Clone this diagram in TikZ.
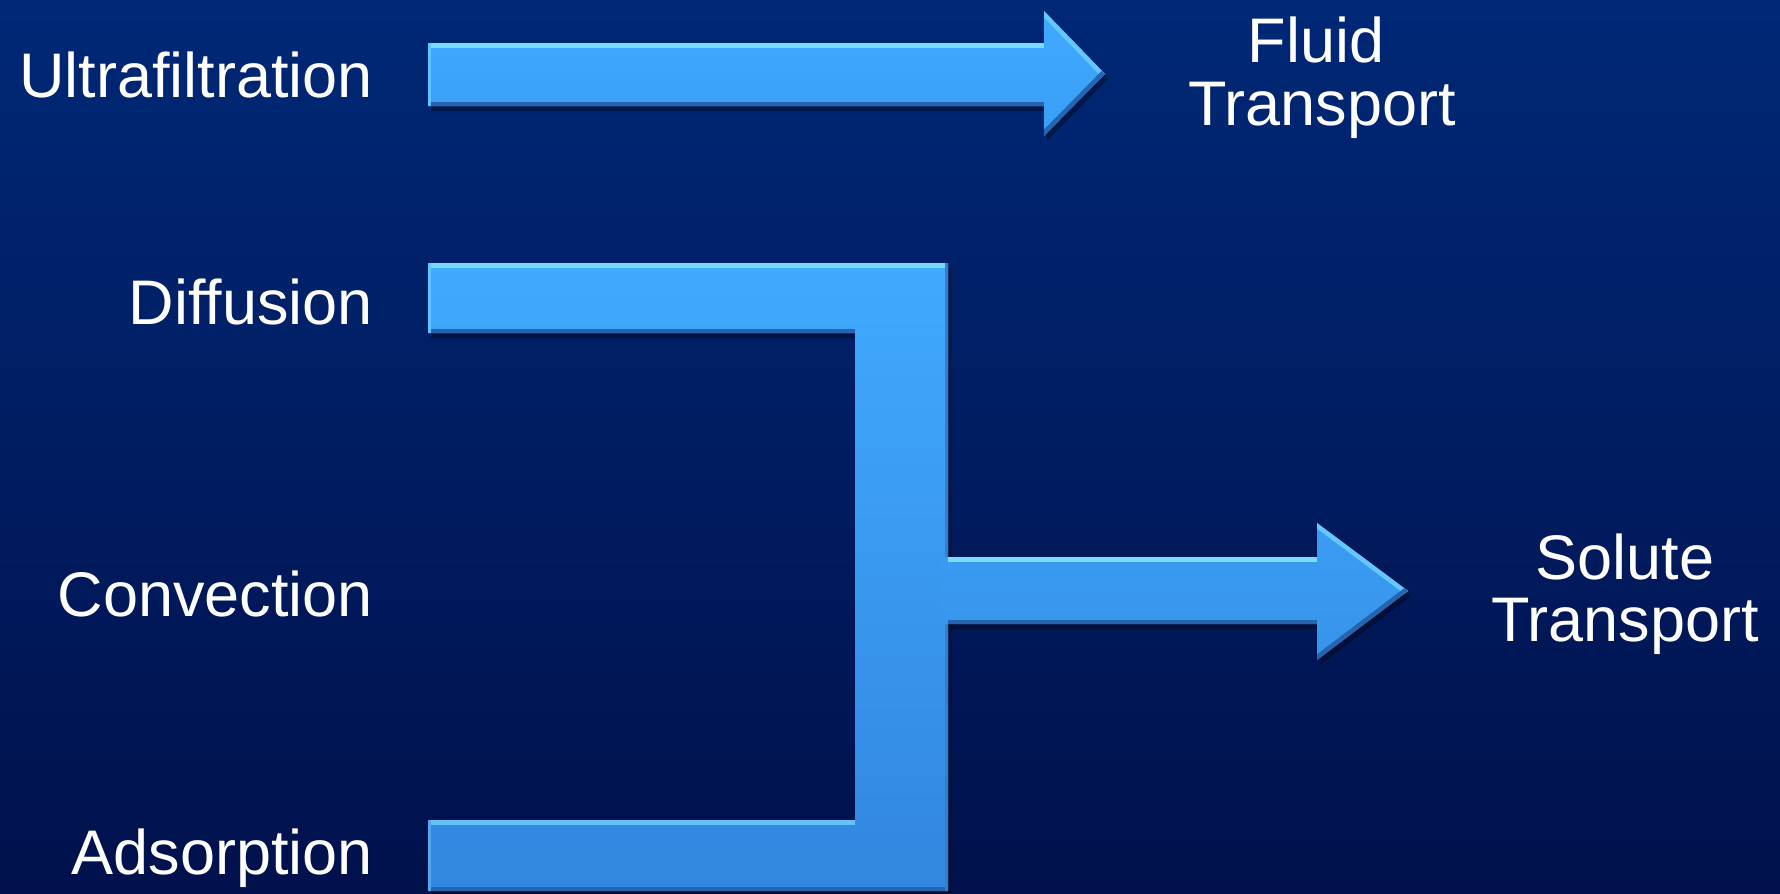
\documentclass[tikz,border=0pt]{standalone}
\usepackage{fontspec}
\setmainfont{Liberation Sans}
\definecolor{bgtop}{RGB}{0,40,118}
\definecolor{bgbot}{RGB}{0,17,76}
\definecolor{arrtop}{RGB}{64,170,255}
\definecolor{arrbot}{RGB}{50,134,222}
\definecolor{hilite}{RGB}{125,218,255}
\definecolor{lowlite}{RGB}{38,100,175}
\begin{document}
\begin{tikzpicture}[x=1pt,y=-1pt,
  lbl/.style={text=white,font=\fontsize{63}{65}\selectfont,inner sep=0pt},
  rlbl/.style={lbl,anchor=base},
  shadowfill/.style={fill=black,opacity=0.35},
  pathUF/.style={insert path={(428,43) -- (1044,43) -- (1044,11) -- (1105,74) -- (1044,136) -- (1044,106) -- (428,106) -- cycle}},
  pathBR/.style={insert path={(428,263) -- (948,263) -- (948,891) -- (428,891) -- (428,820) -- (855,820) -- (855,333) -- (428,333) -- cycle}},
  pathST/.style={insert path={(940,557) -- (1317,557) -- (1317,523) -- (1408,591) -- (1317,660) -- (1317,624) -- (940,624) -- cycle}},
  hi/.style={draw=hilite,line width=9pt,line cap=butt},
  lo/.style={draw=lowlite,line width=9pt,line cap=butt}]
\useasboundingbox (0,0) rectangle (1780,894);
\shade[top color=bgtop,bottom color=bgbot] (0,0) rectangle (1780,894);

% shadows
\fill[shadowfill,shift={(3,5)},pathUF];
\fill[shadowfill,shift={(3,5)},pathBR];
\fill[shadowfill,shift={(3,5)},pathST];

% ultrafiltration arrow
\shade[top color=arrtop,bottom color={rgb,255:red,58;green,158;blue,246},pathUF];
\begin{scope}
  \clip[pathUF];
  \draw[hi] (428,43) -- (1044,43);
  \draw[hi,draw=hilite!60!arrtop] (1044,11) -- (1105,74);
  \draw[lo] (1105,74) -- (1044,136);
  \draw[lo] (1044,106) -- (428,106);
  \draw[draw=hilite!50!arrtop,line width=6pt] (428,43) -- (428,106);
\end{scope}

% bracket
\shade[top color=arrtop,bottom color=arrbot,pathBR];
\begin{scope}
  \clip[pathBR];
  \draw[hi] (428,263) -- (948,263);
  \draw[lo] (855,333) -- (428,333);
  \draw[hi,draw=hilite!70!arrbot] (428,820) -- (855,820);
  \draw[lo] (948,891) -- (428,891);
  \draw[draw=lowlite!60!arrtop,line width=6pt] (948,263) -- (948,891);
  \draw[draw=hilite!50!arrtop,line width=6pt] (428,263) -- (428,333);
  \draw[draw=hilite!40!arrbot,line width=6pt] (428,820) -- (428,891);
\end{scope}

% solute arrow
\shade[top color=arrtop!62!arrbot,bottom color=arrtop!38!arrbot,pathST];
\begin{scope}
  \clip[pathST];
  \draw[hi] (948,557) -- (1317,557);
  \draw[hi,draw=hilite!60!arrtop] (1317,523) -- (1408,591);
  \draw[lo] (1408,591) -- (1317,660);
  \draw[lo] (1317,624) -- (948,624);
\end{scope}

% labels
\node[lbl,anchor=base east] (uf) at (373,97) {Ultrafiltration};
\node[lbl,anchor=base east] (diff) at (373,324) {Diffusion};
\node[lbl,anchor=base east] (conv) at (373,616) {Convection};
\node[lbl,anchor=base east] (ads) at (373,874) {Adsorption};
\node[rlbl] (fluidA) at (1316,62) {Fluid};
\node[rlbl] (fluidB) at (1322,125) {Transport};
\node[rlbl] (soluteA) at (1625,579) {Solute};
\node[rlbl] (soluteB) at (1625,641) {Transport};
\end{tikzpicture}
\end{document}
